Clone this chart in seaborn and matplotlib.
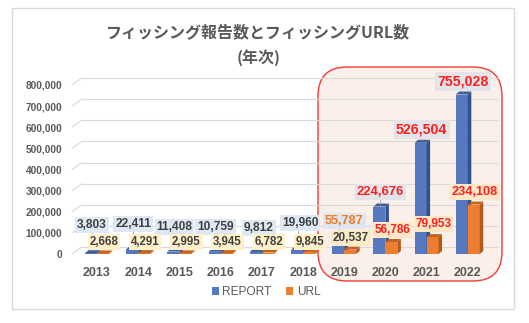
import matplotlib
matplotlib.use('Agg')
import matplotlib.pyplot as plt
import seaborn as sns
import pandas as pd
from matplotlib.patches import FancyBboxPatch, Rectangle, Polygon, Patch

# ---------------- data ----------------
years = ['2013', '2014', '2015', '2016', '2017', '2018', '2019', '2020', '2021', '2022']
report = [3803, 22411, 11408, 10759, 9812, 19960, 55787, 224676, 526504, 755028]
url = [2668, 4291, 2995, 3945, 6782, 9845, 20537, 56786, 79953, 234108]
series = ['REPORT', 'URL']
yticks = [0, 100000, 200000, 300000, 400000, 500000, 600000, 700000, 800000]
title_lines = ['フィッシング報告数とフィッシングURL数', '(年次)']

# label layout (heights where data labels sit, horizontal pixel nudges)
report_lab_y = [137000, 142000, 128000, 128000, 123000, 146000, 156000, 292000, 590000, 816000]
url_lab_y = [57000, 57000, 57000, 57000, 57000, 57000, 75000, 113000, 141000, 292000]
report_lab_dx = [1, 1, 1, 1, 3, 3, 6, 1, 1, 1]

sns.set_theme(style='white')
plt.rcParams['font.family'] = ['Liberation Sans', 'Noto Sans CJK JP', 'DejaVu Sans']

df = pd.DataFrame({
    'year': years * 2,
    'series': [series[0]] * len(years) + [series[1]] * len(years),
    'value': report + url,
})

W, H = 529, 323
fig = plt.figure(figsize=(W / 100, H / 100), dpi=100)
fig.patch.set_facecolor('white')

def fx(px):
    return px / W

def fy(py):
    return 1 - py / H

# outer border
fig.patches.append(Rectangle((fx(12), fy(309)), fx(514) - fx(12), fy(8) - fy(309),
                             transform=fig.transFigure, facecolor='white',
                             edgecolor='#D9D9D9', lw=1, zorder=0))
# highlight box
fig.patches.append(FancyBboxPatch((fx(318), fy(281)), fx(502) - fx(318), fy(67) - fy(281),
                                  boxstyle='round,pad=0,rounding_size=0.055',
                                  transform=fig.transFigure, facecolor='#FBF0E9',
                                  edgecolor='#F03C3C', lw=1.0, zorder=1,
                                  mutation_aspect=W / H))

ax_l, ax_r, ax_b, ax_t = 72, 497, 254, 85
ax = fig.add_axes([fx(ax_l), fy(ax_b), fx(ax_r) - fx(ax_l), fy(ax_t) - fy(ax_b)])
ax.set_zorder(2)
ax.patch.set_alpha(0)

front = {'REPORT': '#5578BF', 'URL': '#ED7D31'}
top_c = {'REPORT': '#3E5C96', 'URL': '#C3651F'}
side_c = {'REPORT': '#34508A', 'URL': '#B05A1B'}

sns.barplot(data=df, x='year', y='value', hue='series', hue_order=series,
            palette=front, width=0.58, saturation=1, ax=ax, legend=False)

step = 41.2
x0c = 97
xlim = ((ax_l - x0c) / step, (ax_r - x0c) / step)
ax.set_xlim(*xlim)
ax.set_ylim(0, 800000)
ppx_x = (xlim[1] - xlim[0]) / (ax_r - ax_l)      # data per pixel (x)
ppx_y = 800000 / (ax_b - ax_t)                   # data per pixel (y)

# gridlines (back wall, with slanted left segment)
back_dx = 10 * ppx_x
back_dy = 7 * ppx_y
for v in yticks:
    ax.plot([xlim[0], xlim[0] + back_dx], [v, v + back_dy], color='#D9D9D9', lw=0.8,
            zorder=1, clip_on=False)
    ax.plot([xlim[0] + back_dx, xlim[1]], [v + back_dy, v + back_dy], color='#D9D9D9',
            lw=0.8, zorder=1, clip_on=False)

# 3D faces on bars
dx = 3.5 * ppx_x
dy = 3.0 * ppx_y
n = len(years)
for i, p in enumerate(ax.patches[:2 * n]):
    s = series[0] if i < n else series[1]
    z = 3 if i < n else 5
    p.set_zorder(z)
    p.set_edgecolor('none')
    x0 = p.get_x()
    w = p.get_width()
    h = p.get_height()
    x1 = x0 + w
    side = Polygon([(x1, 0), (x1 + dx, dy), (x1 + dx, h + dy), (x1, h)], closed=True,
                   facecolor=side_c[s], edgecolor='none', zorder=z + 0.5, clip_on=False)
    top = Polygon([(x0, h), (x1, h), (x1 + dx, h + dy), (x0 + dx, h + dy)], closed=True,
                  facecolor=top_c[s], edgecolor='none', zorder=z + 0.5, clip_on=False)
    ax.add_patch(side)
    ax.add_patch(top)

# data labels
rep_patches = ax.patches[:n]
url_patches = ax.patches[n:2 * n]
dark = '#404040'
red = '#FF1F1F'
for i in range(n):
    rp = rep_patches[i]
    up = url_patches[i]
    bcx = rp.get_x() + rp.get_width() / 2
    rcx = bcx + report_lab_dx[i] * ppx_x
    ucx = up.get_x() + up.get_width() / 2 + 1 * ppx_x
    if i < 6:
        rcol, rbox, rsize = dark, '#DEE8F4', 8.6
        ucol, ubox, usize = dark, '#FFF0C9', 8.3
    elif i == 6:
        rcol, rbox, rsize = '#F07A22', '#DFE6F0', 9.2
        ucol, ubox, usize = dark, '#FDEBC8', 8.5
    else:
        big = 10.2 if i >= 8 else 9.4
        rcol, rbox, rsize = red, '#E2E4EA', big
        ucol, ubox, usize = red, '#FDE7C7', (9.2 if i == 9 else 8.5)
    # leader line for report label
    if report_lab_y[i] - report[i] > 40000:
        ax.plot([bcx + 1 * ppx_x] * 2, [report[i] + dy, report_lab_y[i] - 22000],
                color='#A6A6A6', lw=0.6, zorder=6, clip_on=False)
    ax.text(rcx, report_lab_y[i], f'{report[i]:,}', ha='center', va='center',
            fontsize=rsize, fontweight='bold', color=rcol, zorder=8, clip_on=False,
            bbox=dict(boxstyle='square,pad=0.16', facecolor=rbox, edgecolor='none'))
    ax.text(ucx, url_lab_y[i], f'{url[i]:,}', ha='center', va='center',
            fontsize=usize, fontweight='bold', color=ucol, zorder=9, clip_on=False,
            bbox=dict(boxstyle='square,pad=0.16', facecolor=ubox, edgecolor='none'))

# axes styling
for sp in ax.spines.values():
    sp.set_visible(False)
ax.set_yticks(yticks)
ax.set_yticklabels([f'{v:,}' for v in yticks])
ax.tick_params(axis='y', length=0, pad=7, labelsize=7.3, labelcolor='#595959')
ax.tick_params(axis='x', length=0, pad=9, labelsize=9, labelcolor='#595959')
for lab in ax.get_yticklabels():
    lab.set_fontweight('bold')
for lab in ax.get_xticklabels():
    lab.set_fontweight('bold')
ax.set_xlabel('')
ax.set_ylabel('')
ax.grid(False)

# title
fig.text(0.488, fy(32), title_lines[0], ha='center', va='center', fontsize=11.5,
         fontweight='bold', color='#595959', family=['Noto Sans CJK JP', 'DejaVu Sans'])
fig.text(0.488, fy(58), title_lines[1], ha='center', va='center', fontsize=11.5,
         fontweight='bold', color='#595959', family=['Noto Sans CJK JP', 'DejaVu Sans'])

# legend
handles = [Patch(facecolor=front[s], edgecolor='none') for s in series]
fig.legend(handles, series, loc='center', bbox_to_anchor=(fx(266), fy(292)), ncol=2,
           frameon=False, fontsize=8.6, handlelength=0.6, handleheight=0.6,
           handletextpad=0.3, columnspacing=1.2, labelcolor='#595959')

fig.savefig('out.png', dpi=100)
